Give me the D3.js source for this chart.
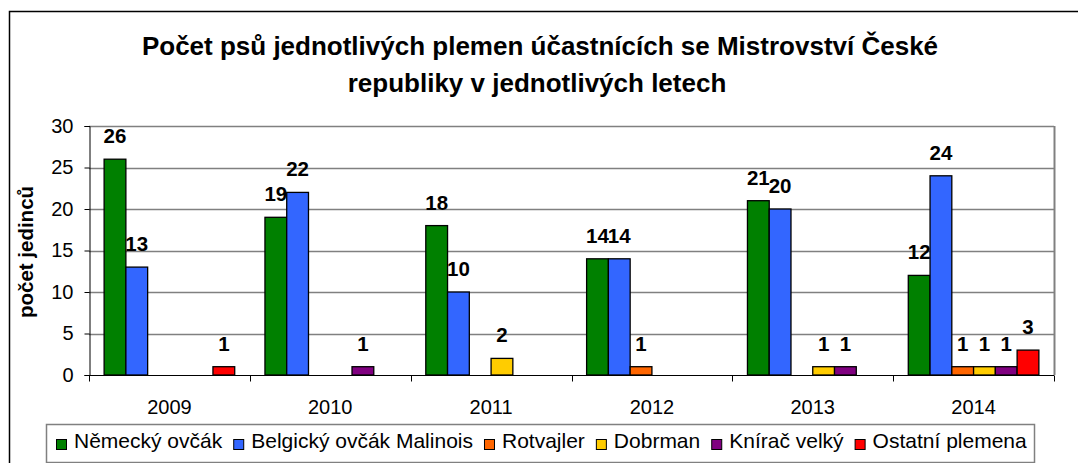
<!DOCTYPE html>
<html>
<head>
<meta charset="utf-8">
<script src="https://cdn.jsdelivr.net/npm/d3@7"></script>
<style>
  body { margin: 0; background: #fff; }
  svg { display: block; font-family: "Liberation Sans", Arial, sans-serif; }
</style>
</head>
<body>
<div id="chart"></div>
<script>
// data
var years = ["2009", "2010", "2011", "2012", "2013", "2014"];
var breeds = ["Německý ovčák", "Belgický ovčák Malinois", "Rotvajler", "Dobrman", "Knírač velký", "Ostatní plemena"];
var colors = ["#008000", "#3366ff", "#ff6600", "#ffcc00", "#800080", "#ff0000"];
var nemecky  = [26, 19, 18, 14, 21, 12];
var belgicky = [13, 22, 10, 14, 20, 24];
var rotvajler = [0, 0, 0, 1, 0, 1];
var dobrman  = [0, 0, 2, 0, 1, 1];
var knirac   = [0, 1, 0, 0, 1, 1];
var ostatni  = [1, 0, 0, 0, 0, 3];
var yTicks = [0, 5, 10, 15, 20, 25, 30];

var seriesValues = [nemecky, belgicky, rotvajler, dobrman, knirac, ostatni];

var W = 1078, H = 463;
var margin = { top: 126, left: 89, right: 1078 - 1054, bottom: 463 - 375 };

var svg = d3.select("#chart").append("svg")
    .attr("width", W)
    .attr("height", H);

// outer chart frame (right/bottom edges fall outside the picture)
svg.append("rect")
    .attr("x", 9.5).attr("y", 11.5)
    .attr("width", 1100).attr("height", 500)
    .attr("fill", "none")
    .attr("stroke", "#000")
    .attr("stroke-width", 1.5);

// title
var title = svg.append("text")
    .attr("text-anchor", "middle")
    .style("font-weight", "bold")
    .style("font-size", "26px");
title.append("tspan").attr("x", 540).attr("y", 55)
    .text("Počet psů jednotlivých plemen účastnících se Mistrovství České");
title.append("tspan").attr("x", 537).attr("y", 92)
    .text("republiky v jednotlivých letech");

var x0 = d3.scaleBand()
    .domain(years)
    .range([margin.left, W - margin.right]);

var gw = x0.bandwidth();
var x1 = d3.scaleBand()
    .domain(d3.range(breeds.length))
    .range([gw * 0.094, gw * 0.906]);

var y = d3.scaleLinear()
    .domain([0, 30])
    .range([H - margin.bottom, margin.top]);

// grid lines
svg.append("g").selectAll("line")
    .data(yTicks.filter(function(d) { return d > 0; }))
    .enter().append("line")
    .attr("x1", margin.left).attr("x2", W - margin.right)
    .attr("y1", function(d) { return Math.round(y(d)) + 0.5; })
    .attr("y2", function(d) { return Math.round(y(d)) + 0.5; })
    .attr("stroke", "#808080")
    .attr("stroke-width", 1.5);

// right border of plot area
svg.append("line")
    .attr("x1", W - margin.right + 0.5).attr("x2", W - margin.right + 0.5)
    .attr("y1", y(30)).attr("y2", y(0))
    .attr("stroke", "#808080")
    .attr("stroke-width", 2);

// y axis
var yAxis = svg.append("g")
    .attr("transform", "translate(" + (margin.left + 0.5) + ",0)")
    .call(d3.axisLeft(y).tickValues(yTicks).tickSize(5).tickPadding(11));
yAxis.selectAll("text").style("font-size", "20px").attr("fill", "#000");
yAxis.selectAll("line, path").attr("stroke", "#000");

// x axis
var xAxis = svg.append("g")
    .attr("transform", "translate(0," + (y(0) + 0.5) + ")");
xAxis.append("line")
    .attr("x1", margin.left).attr("x2", W - margin.right)
    .attr("stroke", "#000");
xAxis.selectAll(".tk")
    .data(years.concat(["end"]))
    .enter().append("line")
    .attr("x1", function(d, i) { return Math.round(margin.left + i * gw) + 0.5; })
    .attr("x2", function(d, i) { return Math.round(margin.left + i * gw) + 0.5; })
    .attr("y1", 0).attr("y2", 6)
    .attr("stroke", "#000");
xAxis.selectAll(".yl")
    .data(years)
    .enter().append("text")
    .attr("x", function(d) { return x0(d) + gw / 2; })
    .attr("y", 38)
    .attr("text-anchor", "middle")
    .style("font-size", "20px")
    .text(function(d) { return d; });

// y axis title
svg.append("text")
    .attr("transform", "translate(33,252) rotate(-90)")
    .attr("text-anchor", "middle")
    .style("font-weight", "bold")
    .style("font-size", "20.5px")
    .text("počet jedinců");

// bars
var groups = svg.selectAll(".year")
    .data(years)
    .enter().append("g")
    .attr("class", "year")
    .attr("transform", function(d) { return "translate(" + x0(d) + ",0)"; });

function cells(d, i) {
    return seriesValues.map(function(s, k) { return { k: k, v: s[i] }; })
        .filter(function(e) { return e.v > 0; });
}

groups.selectAll("rect")
    .data(cells)
    .enter().append("rect")
    .attr("x", function(d) { return x1(d.k); })
    .attr("y", function(d) { return y(d.v); })
    .attr("width", x1.bandwidth())
    .attr("height", function(d) { return y(0) - y(d.v); })
    .attr("fill", function(d) { return colors[d.k]; })
    .attr("stroke", "#000")
    .attr("stroke-width", 1.3);

groups.selectAll(".lbl")
    .data(cells)
    .enter().append("text")
    .attr("class", "lbl")
    .attr("x", function(d) { return x1(d.k) + x1.bandwidth() / 2; })
    .attr("y", function(d) { return y(d.v) - 16; })
    .attr("text-anchor", "middle")
    .style("font-weight", "bold")
    .style("font-size", "20.5px")
    .text(function(d) { return d.v; });

// legend
var legend = svg.append("g");
legend.append("rect")
    .attr("x", 46.5).attr("y", 424.5)
    .attr("width", 988).attr("height", 38)
    .attr("fill", "#fff")
    .attr("stroke", "#808080")
    .attr("stroke-width", 1.5);

var lx = 56;
breeds.forEach(function(b, i) {
    legend.append("rect")
        .attr("x", lx + 0.5).attr("y", 439.5)
        .attr("width", 10).attr("height", 10)
        .attr("fill", colors[i])
        .attr("stroke", "#000");
    var t = legend.append("text")
        .attr("x", lx + 18).attr("y", 448)
        .style("font-size", "21px")
        .text(b);
    lx += 18 + t.node().getComputedTextLength() + 11;
});
</script>
</body>
</html>
